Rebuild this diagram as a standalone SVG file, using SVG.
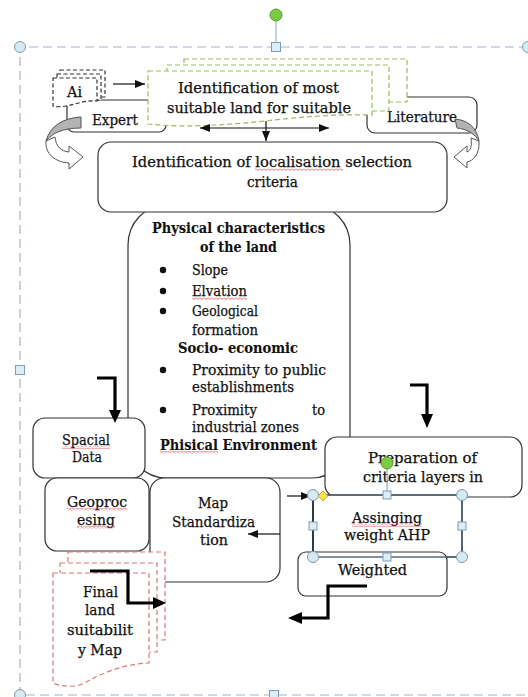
<svg xmlns="http://www.w3.org/2000/svg" width="528" height="697" viewBox="0 0 528 697">
<defs>
<style>
.t{font-family:"DejaVu Serif","Liberation Serif",serif;font-size:14px;fill:#111;stroke:#111;stroke-width:0.25}
.b{font-weight:bold;stroke-width:0.1}
.box{fill:#fff;stroke:#333;stroke-width:1.2}
.gd{fill:#fff;stroke:#9bbb59;stroke-width:1.2;stroke-dasharray:5,3}
.rd{fill:#fff;stroke:#d77a7a;stroke-width:1.2;stroke-dasharray:5,3}
.kd{fill:#fff;stroke:#333;stroke-width:1.2;stroke-dasharray:4,2.5}
.ln{fill:none;stroke:#111;stroke-width:1.2}
.tk{fill:none;stroke:#000;stroke-width:3.2}
.hd{fill:#000}
.frm{fill:none;stroke:#a3b5c8;stroke-width:1.2;stroke-dasharray:9,5}
.hc{fill:#d6eaf2;stroke:#7f9ab0;stroke-width:1}
.hs{fill:#dcedf6;stroke:#7f9db9;stroke-width:1}
.sq{fill:url(#squig)}
</style>
<marker id="ah" markerUnits="userSpaceOnUse" markerWidth="10" markerHeight="8" refX="10" refY="4" orient="auto">
<path d="M0,0 L10,4 L0,8 Z" fill="#111"/>
</marker>
<marker id="ahs" markerUnits="userSpaceOnUse" markerWidth="10" markerHeight="8" refX="10" refY="4" orient="auto-start-reverse">
<path d="M0,0 L10,4 L0,8 Z" fill="#111"/>
</marker>
<pattern id="squig" width="4" height="3" patternUnits="userSpaceOnUse">
<path d="M0,0.5 L2,2.5 L4,0.5" fill="none" stroke="#e03a3a" stroke-width="0.8"/>
</pattern>
</defs>

<!-- selection frame -->
<g id="frame">
<path class="frm" d="M528,47 H20 V695 H528"/>
<line x1="276" y1="21" x2="276" y2="43" stroke="#8aa4bf" stroke-width="1"/>
<circle cx="276" cy="15" r="6" fill="#7ccb45" stroke="#5b9a33"/>
<rect class="hs" x="271.5" y="42.5" width="9" height="9"/>
<circle class="hc" cx="20" cy="47" r="5.5"/>
<circle class="hc" cx="528" cy="47" r="5.5"/>
<rect class="hs" x="15.5" y="365.5" width="9" height="9"/>
<circle class="hc" cx="20" cy="695" r="5.5"/>
<rect class="hs" x="269.5" y="690.5" width="9" height="9"/>
</g>

<!-- Expert -->
<g id="expert">
<rect class="box" x="67" y="100" width="99" height="32" rx="7"/>
<text class="t" x="92" y="125" textLength="46" lengthAdjust="spacingAndGlyphs">Expert</text>
</g>

<!-- Literature -->
<g id="literature">
<rect class="box" x="367" y="97" width="110" height="36" rx="8"/>
<text class="t" x="387" y="122" textLength="70" lengthAdjust="spacingAndGlyphs">Literature</text>
</g>

<!-- Ai multidocument -->
<g id="ai">
<path class="kd" d="M60,70 H105 V97 H60 Z"/>
<path class="kd" d="M57,74 H101 V100 H57 Z"/>
<path class="kd" d="M53,78 H97 V101 C86,100 76,104 66,106 C61,107 56,107 53,106 Z"/>
<text class="t" x="67" y="97" textLength="15" lengthAdjust="spacingAndGlyphs">Ai</text>
</g>

<!-- Green multidocument -->
<g id="most-suitable">
<rect class="gd" x="184" y="59" width="223" height="43"/>
<rect class="gd" x="167" y="65" width="222" height="46"/>
<path class="gd" d="M148,71 H372 V115 C335,114 300,117 265,121 C225,125 185,128 148,124 Z"/>
<text class="t" x="178" y="93" textLength="161" lengthAdjust="spacingAndGlyphs">Identification  of most</text>
<text class="t" x="167" y="113" textLength="184" lengthAdjust="spacingAndGlyphs">suitable land for suitable</text>
</g>

<!-- Curved arrows -->
<g id="curved-left">
<path d="M81,117 C63,118 50,126 46,141 C52,133 63,128 81,128 Z" fill="#b3b3b3" stroke="#555" stroke-width="1"/>
<path d="M46,141 C45,154 55,162 69,163 L69,169 L83,157 L69,146 L69,152 C61,151 56,147 55,137 Z" fill="#fff" stroke="#555" stroke-width="1"/>
</g>
<g id="curved-right">
<path d="M455,119 C468,120 477,128 479,141 C475,134 467,129 457,128 Z" fill="#b3b3b3" stroke="#555" stroke-width="1"/>
<path d="M479,141 C480,154 473,161 467,162 L467,168 L454,157 L467,146 L467,152 C471,150 472,146 471,138 Z" fill="#fff" stroke="#555" stroke-width="1"/>
</g>

<!-- Physical characteristics big box -->
<g id="criteria-list">
<rect class="box" x="128" y="205" width="222" height="273" rx="38" ry="40"/>
<text class="t b" x="152" y="233" textLength="173" lengthAdjust="spacingAndGlyphs">Physical characteristics</text>
<text class="t b" x="200" y="252" textLength="77" lengthAdjust="spacingAndGlyphs">of the land</text>
<circle cx="163" cy="270" r="3.2" fill="#111"/>
<text class="t" x="192" y="275" textLength="36" lengthAdjust="spacingAndGlyphs">Slope</text>
<circle cx="163" cy="291" r="3.2" fill="#111"/>
<text class="t" x="192" y="296" textLength="55" lengthAdjust="spacingAndGlyphs">Elvation</text>
<circle cx="163" cy="311" r="3.2" fill="#111"/>
<text class="t" x="192" y="316" textLength="66" lengthAdjust="spacingAndGlyphs">Geological</text>
<text class="t" x="192" y="335" textLength="66" lengthAdjust="spacingAndGlyphs">formation</text>
<text class="t b" x="178" y="353" textLength="120" lengthAdjust="spacingAndGlyphs">Socio- economic</text>
<circle cx="163" cy="370" r="3.2" fill="#111"/>
<text class="t" x="192" y="375" textLength="134" lengthAdjust="spacingAndGlyphs">Proximity to public</text>
<text class="t" x="192" y="392" textLength="102" lengthAdjust="spacingAndGlyphs">establishments</text>
<circle cx="163" cy="410" r="3.2" fill="#111"/>
<text class="t" x="192" y="415" textLength="65" lengthAdjust="spacingAndGlyphs">Proximity</text>
<text class="t" x="312" y="415" textLength="13" lengthAdjust="spacingAndGlyphs">to</text>
<text class="t" x="192" y="432" textLength="107" lengthAdjust="spacingAndGlyphs">industrial zones</text>
<text class="t b" x="160" y="450" textLength="157" lengthAdjust="spacingAndGlyphs">Phisical Environment</text>
<rect class="sq" x="192" y="297" width="55" height="3"/>
<rect class="sq" x="160" y="451" width="58" height="3"/>
</g>

<!-- Identification of localisation selection criteria -->
<g id="localisation">
<rect class="box" x="98" y="142" width="349" height="70" rx="13"/>
<text class="t" x="132" y="167" textLength="280" lengthAdjust="spacingAndGlyphs">Identification  of localisation selection</text>
<text class="t" x="247" y="187" textLength="51" lengthAdjust="spacingAndGlyphs">criteria</text>
<rect class="sq" x="255" y="168" width="88" height="3"/>
</g>

<!-- Spacial Data -->
<g id="spacial-data">
<rect class="box" x="33" y="418" width="112" height="60" rx="12"/>
<text class="t" x="62" y="445" textLength="48" lengthAdjust="spacingAndGlyphs">Spacial</text>
<text class="t" x="72" y="462" textLength="30" lengthAdjust="spacingAndGlyphs">Data</text>
<rect class="sq" x="62" y="446" width="48" height="3"/>
</g>

<!-- Geoprocesing -->
<g id="geoprocessing">
<rect class="box" x="45" y="478" width="104" height="73" rx="12"/>
<text class="t" x="67" y="507" textLength="60" lengthAdjust="spacingAndGlyphs">Geoproc</text>
<text class="t" x="77" y="525" textLength="38" lengthAdjust="spacingAndGlyphs">esing</text>
<rect class="sq" x="67" y="508" width="60" height="3"/>
<rect class="sq" x="77" y="526" width="38" height="3"/>
</g>

<!-- Map Standardization -->
<g id="map-standardization">
<rect class="box" x="150" y="478" width="130" height="104" rx="14"/>
<text class="t" x="198" y="508" textLength="30" lengthAdjust="spacingAndGlyphs">Map</text>
<text class="t" x="172" y="527" textLength="83" lengthAdjust="spacingAndGlyphs">Standardiza</text>
<text class="t" x="200" y="545" textLength="28" lengthAdjust="spacingAndGlyphs">tion</text>
</g>

<!-- Final land suitability Map -->
<g id="final-map">
<rect class="rd" x="68" y="552" width="97" height="88"/>
<rect class="rd" x="60" y="563" width="97" height="89"/>
<path class="rd" d="M53,573 H149 V663 C125,664 105,672 90,680 C82,685 75,687 68,686 C62,686 57,685 53,683 Z"/>
<text class="t" x="83" y="597" textLength="35" lengthAdjust="spacingAndGlyphs">Final</text>
<text class="t" x="85" y="615" textLength="30" lengthAdjust="spacingAndGlyphs">land</text>
<text class="t" x="67" y="635" textLength="66" lengthAdjust="spacingAndGlyphs">suitabilit</text>
<text class="t" x="78" y="655" textLength="44" lengthAdjust="spacingAndGlyphs">y Map</text>
</g>

<!-- Preparation of criteria layers in -->
<g id="preparation">
<rect class="box" x="325" y="437" width="197" height="60" rx="12"/>
<text class="t" x="368" y="463" textLength="109" lengthAdjust="spacingAndGlyphs">Preparation  of</text>
<text class="t" x="363" y="482" textLength="120" lengthAdjust="spacingAndGlyphs">criteria  layers in</text>
</g>

<!-- Assinging weight AHP -->
<g id="ahp">
<rect class="box" x="313" y="495" width="149" height="62" rx="6"/>
<text class="t" x="352" y="523" textLength="70" lengthAdjust="spacingAndGlyphs">Assinging</text>
<text class="t" x="344" y="540" textLength="86" lengthAdjust="spacingAndGlyphs">weight AHP</text>
<rect class="sq" x="352" y="524" width="70" height="3"/>
</g>

<!-- Weighted -->
<g id="weighted">
<rect class="box" x="298" y="552" width="149" height="44" rx="8"/>
<text class="t" x="338" y="575" textLength="69" lengthAdjust="spacingAndGlyphs">Weighted</text>
</g>

<!-- Connectors -->
<g id="connectors">
<line class="ln" x1="113" y1="84" x2="145" y2="84" marker-end="url(#ah)"/>
<line class="ln" x1="200" y1="128" x2="329" y2="128" marker-start="url(#ahs)" marker-end="url(#ahs)"/>
<line class="ln" x1="266" y1="121" x2="266" y2="141" marker-end="url(#ah)"/>
<line class="ln" x1="280" y1="534" x2="248" y2="534" marker-end="url(#ah)"/>
<line class="ln" x1="287" y1="496" x2="311" y2="496" marker-end="url(#ah)"/>
<polyline class="tk" points="97,378 115,378 115,411"/>
<polygon class="hd" points="109,410 121,410 115,423"/>
<polyline class="tk" points="410,385 427,385 427,415"/>
<polygon class="hd" points="421,414 433,414 427,428"/>
<polyline class="tk" points="90,571 128,571 128,603 154,603"/>
<polygon class="hd" points="153,597 153,609 166,603"/>
<polyline class="tk" points="367,586 328,586 328,618 301,618"/>
<polygon class="hd" points="302,612 302,624 288,618"/>
</g>

<!-- selection handles on AHP box -->
<g id="ahp-selection">
<rect x="313" y="495" width="149" height="62" fill="none" stroke="#3f5368" stroke-width="1.3"/>
<line x1="313" y1="495" x2="313" y2="557" stroke="#2d3a48" stroke-width="2"/>
<line x1="387" y1="468" x2="387" y2="491" stroke="#7f9db9" stroke-width="1"/>
<circle cx="387" cy="463" r="6" fill="#7ccb45" stroke="#5b9a33"/>
<circle class="hc" cx="313" cy="495" r="5.5"/>
<circle class="hc" cx="462" cy="495" r="5.5"/>
<circle class="hc" cx="313" cy="557" r="5.5"/>
<circle class="hc" cx="462" cy="557" r="5.5"/>
<rect class="hs" x="383" y="491" width="8" height="8"/>
<rect class="hs" x="383" y="553" width="8" height="8"/>
<rect class="hs" x="309" y="522" width="8" height="8"/>
<rect class="hs" x="458" y="522" width="8" height="8"/>
<path d="M323,491 L328,496 L323,501 L318,496 Z" fill="#ffe04a" stroke="#b89a2a" stroke-width="0.8"/>
</g>
</svg>
